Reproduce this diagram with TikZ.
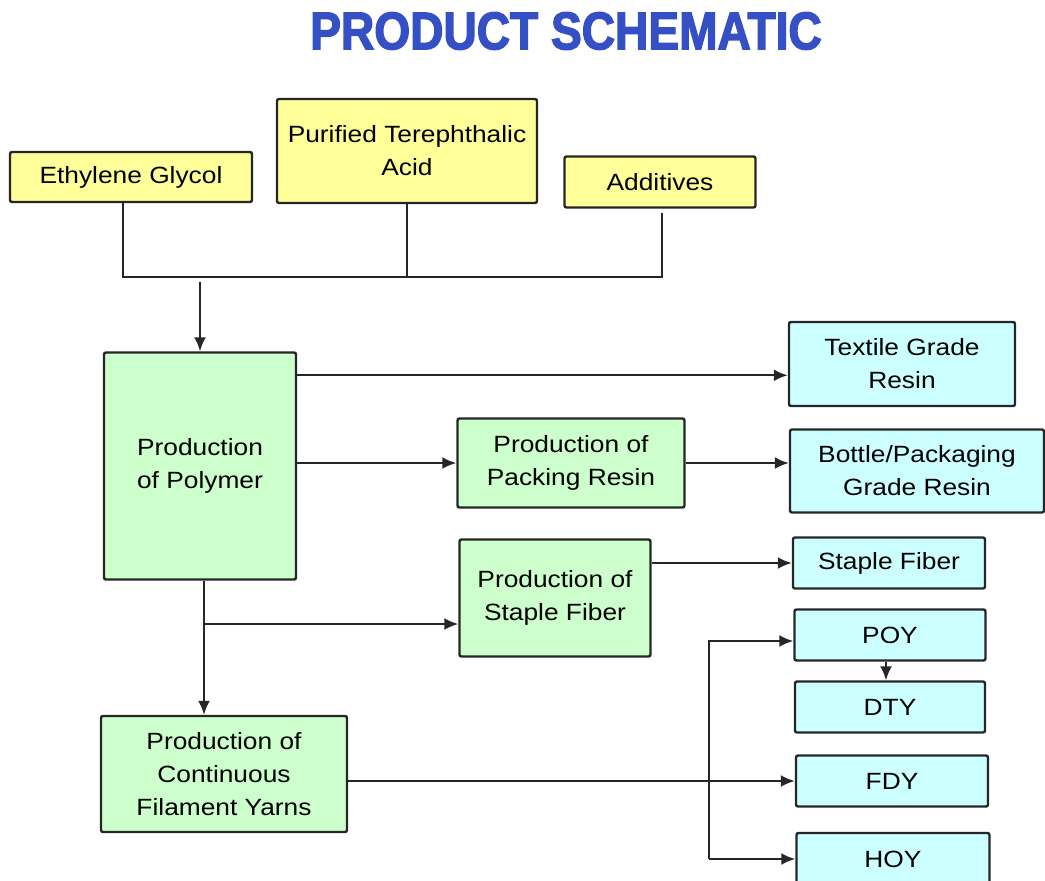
\documentclass[tikz,border=0pt]{standalone}
\usepackage{fontspec}
\setmainfont{Liberation Sans}
\newfontfamily\boxfont[FakeStretch=1.12]{Liberation Sans}
\newfontfamily\titlefont[FakeStretch=0.87,FakeBold=2.5]{Liberation Sans Bold}
\usepackage{tikz}
\usetikzlibrary{arrows.meta}
\definecolor{rawfill}{HTML}{FFFF99}
\definecolor{procfill}{HTML}{CCFFCC}
\definecolor{prodfill}{HTML}{CCFFFF}
\definecolor{titleblue}{HTML}{3550C4}

\begin{document}
\begin{tikzpicture}[
    x=1pt,y=-1pt,
    box/.style={draw=black!85,line width=2.4pt,rounded corners=2pt,inner sep=0pt,
      align=center,font=\boxfont\fontsize{23.5}{33}\selectfont},
    raw/.style={box,fill=rawfill},
    proc/.style={box,fill=procfill},
    prod/.style={box,fill=prodfill},
    line/.style={draw=black!85,line width=2.2pt},
    arr/.style={line,-{Latex[length=14pt,width=12pt]}},
    >=Latex]
  \useasboundingbox (0,0) rectangle (1045,881);
  \node[font=\titlefont\fontsize{53}{53}\selectfont,text=titleblue] (title) at (566,31) {PRODUCT SCHEMATIC};
  % raw materials
  \node[raw,minimum width=242pt,minimum height=50pt] (eg) at (131,177) {Ethylene Glycol};
  \node[raw,minimum width=260pt,minimum height=104pt] (pta) at (407,151) {Purified Terephthalic\\Acid};
  \node[raw,minimum width=191pt,minimum height=51pt] (add) at (660,182) {Additives};
  % process steps
  \node[proc,minimum width=192pt,minimum height=227pt] (poly) at (200,466) {Production\\of Polymer};
  \node[proc,minimum width=227pt,minimum height=89pt] (packprod) at (571,463) {Production of\\Packing Resin};
  \node[proc,minimum width=191pt,minimum height=117pt] (stapprod) at (555,598) {Production of\\Staple Fiber};
  \node[proc,minimum width=246pt,minimum height=116pt] (cfy) at (224,774) {Production of\\Continuous\\Filament Yarns};
  % products
  \node[prod,minimum width=226pt,minimum height=84pt] (texres) at (902,364) {Textile Grade\\Resin};
  \node[prod,minimum width=254pt,minimum height=83pt] (bottle) at (917,471) {Bottle/Packaging\\Grade Resin};
  \node[prod,minimum width=192pt,minimum height=51pt] (staple) at (889,563) {Staple Fiber};
  \node[prod,minimum width=191pt,minimum height=51pt] (poy) at (890,635) {POY};
  \node[prod,minimum width=190pt,minimum height=51pt] (dty) at (890,707) {DTY};
  \node[prod,minimum width=192pt,minimum height=51pt] (fdy) at (892,781) {FDY};
  \node[prod,minimum width=193pt,minimum height=52pt] (hoy) at (893,859) {HOY};
  % joining line of the raw materials
  \coordinate (busL) at (123,277);
  \coordinate (busR) at (662,277);
  \draw[line] (eg.south -| busL) -- (busL) -- (busR) -- ([yshift=-4pt]add.south -| busR);
  \draw[line] (pta.south) -- (pta.south |- busL);
  \draw[arr] ([yshift=-5pt]poly.north |- busL) -- (poly.north);
  % polymer outputs
  \draw[arr] ([yshift=-24pt]poly.north east) -- ([yshift=-24pt]poly.north east -| texres.west);
  \draw[arr] (packprod.west -| poly.east) -- (packprod.west);
  \draw[arr] (packprod.east) -- (packprod.east -| bottle.west);
  \draw[arr] ([xshift=4pt]poly.south) -- ([xshift=4pt]poly.south |- cfy.north);
  \coordinate (br) at ([xshift=4pt]poly.south |- 0,624);
  \draw[arr] (br) -- (br -| stapprod.west);
  \draw[arr] (stapprod.east |- staple.west) -- (staple.west);
  % filament yarns
  \coordinate (spl) at (709,0);
  \draw[line] (cfy.east |- fdy.west) -- (spl |- fdy.west);
  \draw[arr] (spl |- fdy.west) -- (fdy.west);
  \draw[arr] (spl |- hoy.west) -- ([yshift=-6pt]spl |- poy.west) -- ([yshift=-6pt]poy.west);
  \draw[arr] (spl |- hoy.west) -- (hoy.west);
  \draw[arr] ([xshift=-4pt]poy.south) -- ([xshift=-4pt]dty.north);
\end{tikzpicture}
\end{document}
